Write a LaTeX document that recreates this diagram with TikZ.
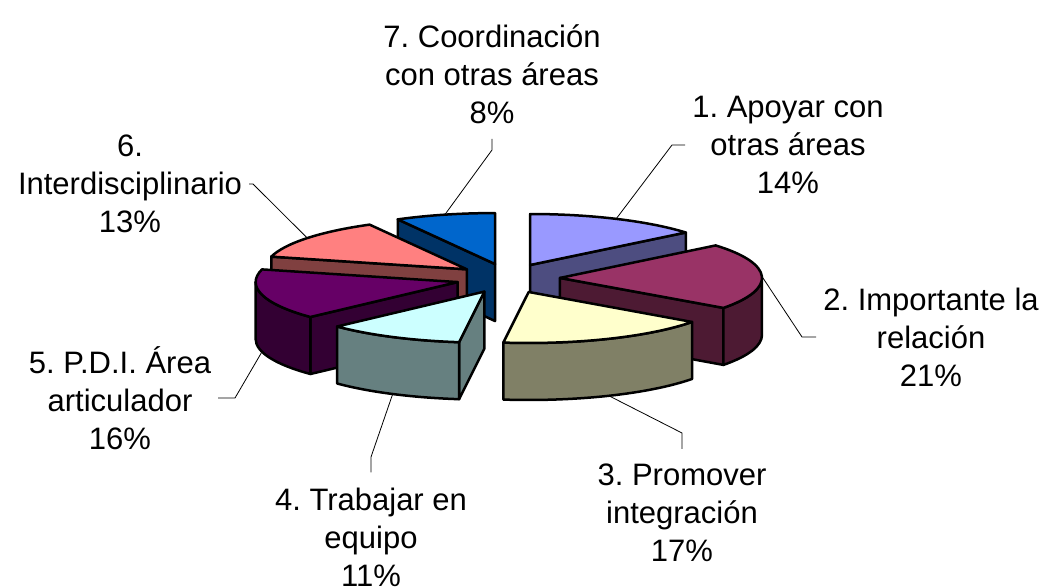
\documentclass[tikz,border=0pt]{standalone}
\usepackage{fontspec}
\newfontfamily\lblfont{Liberation Sans}
\frenchspacing

\definecolor{s1top}{HTML}{9999FF}
\definecolor{s1side}{HTML}{4D4D80}
\definecolor{s2top}{HTML}{993366}
\definecolor{s2side}{HTML}{4D1A33}
\definecolor{s3top}{HTML}{FFFFCC}
\definecolor{s3side}{HTML}{808066}
\definecolor{s4top}{HTML}{CCFFFF}
\definecolor{s4side}{HTML}{668080}
\definecolor{s5top}{HTML}{660066}
\definecolor{s5side}{HTML}{330033}
\definecolor{s6top}{HTML}{FF8080}
\definecolor{s6side}{HTML}{804040}
\definecolor{s7top}{HTML}{0066CC}
\definecolor{s7side}{HTML}{003366}

\begin{document}
\begin{tikzpicture}[x=1pt,y=1pt,
	slice/.style={draw=black,line width=2.5pt,line join=round},
	rim/.style={x radius=202,y radius=51},
	leader/.style={draw=black,line width=0.8pt},
	lbl/.style={align=center,inner xsep=7pt,inner ysep=15pt,font=\lblfont\fontsize{31}{38}\selectfont}]
	\useasboundingbox (0,0) rectangle (1048,586);
	\coordinate (c) at (508,307.6);
	% apex of each exploded slice
	\path (c) ++(64.8:52 and 14.8) coordinate (a1);
	\path (c) ++(1.8:52 and 14.8) coordinate (a2);
	\path (c) ++(-66.6:52 and 14.8) coordinate (a3);
	\path (c) ++(-117:52 and 14.8) coordinate (a4);
	\path (c) ++(-165.6:52 and 14.8) coordinate (a5);
	\path (c) ++(-217.8:52 and 14.8) coordinate (a6);
	\path (c) ++(-255.6:52 and 14.8) coordinate (a7);
	
	% 7
	\draw[slice,fill=s7side] (a7) -- ++(-241.2:202 and 51) -- ++(0,-57) -- ++(-61.2:202 and 51) -- cycle;
	\draw[slice,fill=s7top] (a7) -- ++(-241.2:202 and 51) arc[rim,start angle=-241.2,end angle=-270] -- cycle;
	% 1
	\draw[slice,fill=s1side] (a1) -- ++(39.6:202 and 51) -- ++(0,-57) -- ++(219.6:202 and 51) -- cycle;
	\draw[slice,fill=s1top] (a1) -- ++(90:202 and 51) arc[rim,start angle=90,end angle=39.6] -- cycle;
	% 6
	\draw[slice,fill=s6side] (a6) -- ++(-194.4:202 and 51) -- ++(0,-57) -- ++(-14.4:202 and 51) -- cycle;
	\draw[slice,fill=s6top] (a6) -- ++(-194.4:202 and 51) arc[rim,start angle=-194.4,end angle=-241.2] -- cycle;
	% 2
	\draw[slice,fill=s2side] (a2) -- ++(-36:202 and 51) -- ++(0,-57) -- ++(144:202 and 51) -- cycle;
	\draw[slice,fill=s2side] (a2) ++(-36:202 and 51) arc[rim,start angle=-36,end angle=0] -- ++(0,-57) arc[rim,start angle=0,end angle=-36] -- cycle;
	\draw[slice,fill=s2top] (a2) -- ++(39.6:202 and 51) arc[rim,start angle=39.6,end angle=-36] -- cycle;
	% 5
	\draw[slice,fill=s5side] (a5) -- ++(-136.8:202 and 51) -- ++(0,-57) -- ++(43.2:202 and 51) -- cycle;
	\draw[slice,fill=s5side] (a5) ++(-180:202 and 51) arc[rim,start angle=-180,end angle=-136.8] -- ++(0,-57) arc[rim,start angle=-136.8,end angle=-180] -- cycle;
	\draw[slice,fill=s5top] (a5) -- ++(-136.8:202 and 51) arc[rim,start angle=-136.8,end angle=-194.4] -- cycle;
	% 4
	\draw[slice,fill=s4side] (a4) -- ++(-97.2:202 and 51) -- ++(0,-57) -- ++(82.8:202 and 51) -- cycle;
	\draw[slice,fill=s4side] (a4) ++(-136.8:202 and 51) arc[rim,start angle=-136.8,end angle=-97.2] -- ++(0,-57) arc[rim,start angle=-97.2,end angle=-136.8] -- cycle;
	\draw[slice,fill=s4top] (a4) -- ++(-97.2:202 and 51) arc[rim,start angle=-97.2,end angle=-136.8] -- cycle;
	% 3
	\draw[slice,fill=s3side] (a3) ++(-97.2:202 and 51) arc[rim,start angle=-97.2,end angle=-36] -- ++(0,-57) arc[rim,start angle=-36,end angle=-97.2] -- cycle;
	\draw[slice,fill=s3top] (a3) -- ++(-36:202 and 51) arc[rim,start angle=-36,end angle=-97.2] -- cycle;
	
	% where the leaders touch the slices
	\path (a1) ++(64.8:202 and 51) coordinate (p1);
	\path (a2) ++(1.8:202 and 51) coordinate (p2);
	\path (a3) ++(-66.6:202 and 51) ++(0,-57) coordinate (p3);
	\path (a4) ++(-117:202 and 51) ++(0,-57) coordinate (p4);
	\path (a5) ++(-165.6:202 and 51) ++(0,-57) coordinate (p5);
	\path (a6) ++(-217.8:202 and 51) coordinate (p6);
	\path (a7) ++(-255.6:202 and 51) coordinate (p7);
	\coordinate (k1) at (672,441);
	\coordinate (k2) at (802,249);
	\coordinate (k3) at (682,153);
	\coordinate (k4) at (371,129);
	\coordinate (k5) at (235,188);
	\coordinate (k6) at (253,402);
	\coordinate (k7) at (492,436);
	
	\node[lbl] (l1) at (788,441) {1. Apoyar con\\otras áreas\\14\%};
	\node[lbl] (l2) at (931,249) {2. Importante la\\relación\\21\%};
	\node[lbl] (l3) at (682,73) {3. Promover\\integración\\17\%};
	\node[lbl] (l4) at (371,49) {4. Trabajar en\\equipo\\11\%};
	\node[lbl] (l5) at (120,188) {5. P.D.I. Área\\articulador\\16\%};
	\node[lbl] (l6) at (130,402) {6.\\Interdisciplinario\\13\%};
	\node[lbl] (l7) at (492,512) {7. Coordinación\\con otras áreas\\8\%};
	
	\draw[leader] (l1.west) -- (k1) -- (p1);
	\draw[leader] (l2.west) -- (k2) -- (p2);
	\draw[leader] (l3.north) -- (k3) -- (p3);
	\draw[leader] (l4.north) -- (k4) -- (p4);
	\draw[leader] (l5.east) -- (k5) -- (p5);
	\draw[leader] (l6.east) -- (k6) -- (p6);
	\draw[leader] (l7.south) -- (k7) -- (p7);
\end{tikzpicture}
\end{document}
